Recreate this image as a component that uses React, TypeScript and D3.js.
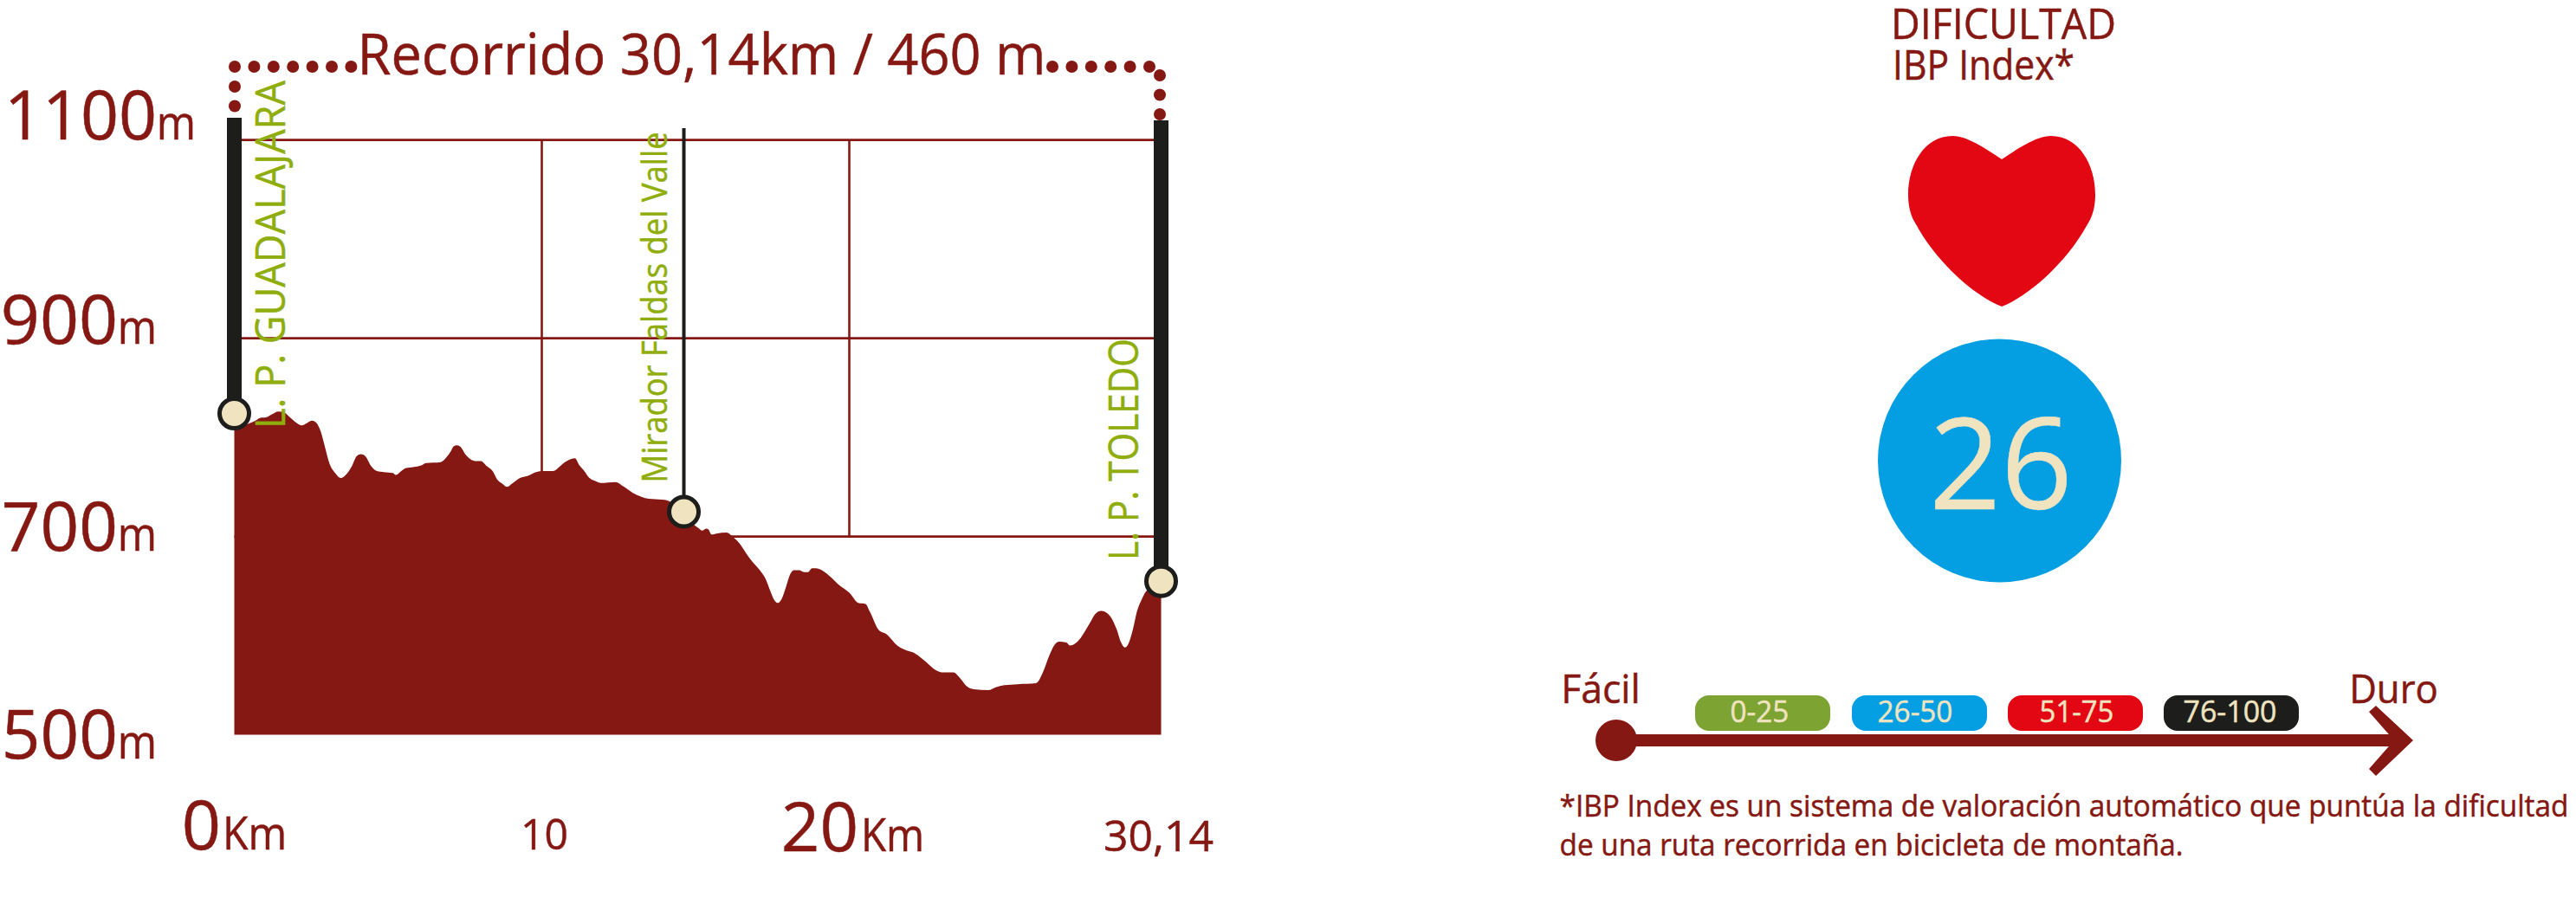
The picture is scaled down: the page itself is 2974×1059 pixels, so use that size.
import React from "react";
import * as d3 from "d3";

const distanceKm = [0,0.27,0.55,0.69,0.88,1.0,1.21,1.44,1.63,1.82,2.01,2.2,2.34,2.52,2.66,2.81,2.95,3.09,3.28,3.46,3.65,3.84,3.98,4.12,4.26,4.45,4.64,4.87,5.16,5.25,5.39,5.58,5.81,6.1,6.24,6.71,6.9,7.04,7.13,7.24,7.37,7.51,7.68,7.84,8.02,8.21,8.4,8.54,8.73,8.87,9.06,9.29,9.53,9.81,10.04,10.37,10.56,10.75,10.94,11.08,11.22,11.36,11.55,11.74,11.92,12.39,12.68,12.96,13.24,13.48,13.99,14.18,14.6,14.98,15.12,15.21,15.35,15.42,15.52,15.68,16.01,16.2,16.48,16.67,16.86,17.09,17.28,17.42,17.56,17.68,17.8,17.94,18.08,18.2,18.36,18.55,18.65,18.79,18.9,19.16,19.4,19.63,20.01,20.29,20.53,20.67,20.95,21.23,21.56,21.8,22.08,22.36,22.55,22.83,23.06,23.39,23.58,23.82,24.05,24.52,24.76,25.04,25.46,26.07,26.31,26.49,26.68,26.82,27.06,27.17,27.34,27.53,27.81,28,28.19,28.37,28.54,28.7,28.84,28.96,29.08,29.22,29.36,29.5,29.69,29.93,30.14];
const elevationM = [810,812,815,817,820,820,823,826,825,820,815,812,814,817,815,806,790,774,764,759,763,772,781,783,781,771,766,765,764,762,765,769,770,772,774,775,780,786,791,792,790,783,778,776,776,771,766,758,753,750,754,759,761,765,766,766,770,775,778,779,772,767,759,756,754,755,750,744,740,738,737,735,725,711,708,706,708,707,702,703,704,700,691,682,674,666,657,646,636,633,637,649,662,666,666,664,664,668,668,665,659,652,643,633,632,624,606,601,590,586,583,577,572,565,563,563,558,549,546,545,548,550,551,552,564,579,591,594,593,590,592,598,612,622,625,623,617,606,593,588,592,606,625,636,646,649,652];

const elevationTicks = [1100, 900, 700, 500];
const distanceGrid = [10, 20];
const waypointNames = ["L. P. GUADALAJARA", "Mirador Faldas del Valle", "L. P. TOLEDO"];
const waypointKm = [0, 14.62, 30.14];
const waypointM = [824, 725, 655];
const titleText = "Recorrido 30,14km / 460 m";
const difficultyValue = "26";
const rangeLabels = ["0-25", "26-50", "51-75", "76-100"];
const rangeColors = ["#7da332", "#049fe3", "#e30613", "#1d1d1b"];
const noteLines = [
  "*IBP Index es un sistema de valoración automático que puntúa la dificultad",
  "de una ruta recorrida en bicicleta de montaña.",
];

const MAROON = "#851812";
const CREAM = "#f0e4c0";
const GREEN = "#8fae0e";
const BLACK = "#1d1d1b";
const FONT = "'Open Sans', sans-serif";

type TP = { x: number; y: number; w: number; fs: number; fill?: string; rot?: boolean; children: string };
function T({ x, y, w, fs, fill = MAROON, rot, children }: TP) {
  // the measured extents are ink extents, so side bearings are added back
  const b = fs * 0.04;
  const px = rot ? x : x - b;
  const py = rot ? y + b : y;
  return (
    <text x={px} y={py} fontSize={fs} fill={fill} stroke={fill} strokeWidth={0.5} fontFamily={FONT}
      textLength={w + 2 * b} lengthAdjust="spacingAndGlyphs"
      transform={rot ? `rotate(-90 ${px} ${py})` : undefined}>{children}</text>
  );
}

export default function App() {
  const xScale = d3.scaleLinear().domain([0, 30.14]).range([270.5, 1340.5]);
  const yScale = d3.scaleLinear().domain([500, 1100]).range([848.6, 161.6]);
  const points = distanceKm.map((d, i) => [d, elevationM[i]] as [number, number]);
  const area = d3.area<[number, number]>().x(d => xScale(d[0])).y0(yScale(500)).y1(d => yScale(d[1])).curve(d3.curveMonotoneX);

  const elevLayout = [
    { x: 8, w: 170, base: 161, mx: 183 },
    { x: 4, w: 129, base: 397, mx: 138 },
    { x: 5, w: 128, base: 636, mx: 138 },
    { x: 5, w: 128, base: 876, mx: 138 },
  ];
  const barLayout = [
    { w: 17, top: 136 },
    { w: 4, top: 148 },
    { w: 17, top: 139 },
  ];
  const nameLayout = [
    { x: 329, y: 493, w: 398, fs: 48 },
    { x: 770, y: 556, w: 402, fs: 40 },
    { x: 1314, y: 645, w: 252, fs: 48 },
  ];
  const pillLayout = [
    { x: 1957, tx: 1999, tw: 65 },
    { x: 2138, tx: 2169, tw: 84 },
    { x: 2318, tx: 2356, tw: 83 },
    { x: 2498, tx: 2522, tw: 105 },
  ];

  return (
    <svg width={2974} height={1059} viewBox="0 0 2974 1059" style={{ position: "absolute", left: 0, top: 0, display: "block", background: "#fff" }}>
      {/* grid */}
      {elevationTicks.slice(0, 3).map(t => (
        <line key={t} x1={xScale(0)} x2={xScale(30.14)} y1={yScale(t)} y2={yScale(t)} stroke={MAROON} strokeWidth={2.6} />
      ))}
      {distanceGrid.map(k => (
        <line key={k} x1={xScale(k)} x2={xScale(k)} y1={yScale(1100)} y2={yScale(700)} stroke={MAROON} strokeWidth={2.6} />
      ))}
      {/* profile */}
      <path d={area(points) as string} fill={MAROON} />

      {/* waypoint poles */}
      {waypointKm.map((k, i) => (
        <rect key={k} x={xScale(k) - barLayout[i].w / 2} width={barLayout[i].w} y={barLayout[i].top}
          height={yScale(waypointM[i]) - barLayout[i].top} fill={BLACK} />
      ))}
      {waypointKm.map((k, i) => (
        <circle key={k} cx={xScale(k)} cy={yScale(waypointM[i])} r={17} fill={CREAM} stroke={BLACK} strokeWidth={5} />
      ))}
      {waypointNames.map((n, i) => (
        <T key={n} {...nameLayout[i]} fill={GREEN} rot>{n}</T>
      ))}

      {/* title and dotted bracket */}
      <T x={415} y={86} w={790} fs={65}>{titleText}</T>
      {d3.range(7).map(i => <circle key={i} cx={271 + i * 22.4} cy={77} r={7} fill={MAROON} />)}
      {d3.range(2).map(i => <circle key={i} cx={271} cy={100 + i * 22.5} r={7} fill={MAROON} />)}
      {d3.range(6).map(i => <circle key={i} cx={1215 + i * 22.4} cy={77} r={7} fill={MAROON} />)}
      {d3.range(3).map(i => <circle key={i} cx={1339} cy={87 + i * 22.5} r={7} fill={MAROON} />)}

      {/* elevation labels */}
      {elevationTicks.map((t, i) => (
        <g key={t}>
          <T x={elevLayout[i].x} y={elevLayout[i].base} w={elevLayout[i].w} fs={78}>{String(t)}</T>
          <T x={elevLayout[i].mx} y={elevLayout[i].base} w={41} fs={54}>m</T>
        </g>
      ))}

      {/* distance labels */}
      <T x={213} y={981} w={39} fs={79}>0</T>
      <T x={259} y={981} w={70} fs={53}>Km</T>
      <T x={603} y={981} w={51} fs={50}>10</T>
      <T x={905} y={983} w={83} fs={79}>20</T>
      <T x={996} y={983} w={69} fs={53}>Km</T>
      <T x={1276} y={983} w={123} fs={50}>30,14</T>

      {/* difficulty panel */}
      <T x={2185} y={45} w={256} fs={50}>DIFICULTAD</T>
      <T x={2187} y={92} w={206} fs={47}>IBP Index*</T>
      <path fill="#e30613" d="M2311,184 C2328,173 2350,157 2368,157 C2400,157 2419,190 2419,225 C2419,238 2416,250 2410,259 C2385,305 2340,343 2311,354 C2282,343 2237,305 2212,259 C2206,250 2203,238 2203,225 C2203,190 2222,157 2254,157 C2272,157 2294,173 2311,184Z" />
      <circle cx={2308.5} cy={532} r={140.5} fill="#049fe3" />
      <T x={2233} y={588} w={154} fs={146} fill={CREAM}>{difficultyValue}</T>

      {/* scale arrow */}
      <T x={1804} y={812} w={88} fs={46}>Fácil</T>
      <T x={2714} y={812} w={99} fs={46}>Duro</T>
      <line x1={1866} x2={2770} y1={855} y2={855} stroke={MAROON} strokeWidth={14} />
      <circle cx={1866} cy={855} r={24} fill={MAROON} />
      <polygon points="2743,815 2786,855 2743,896 2735,888 2764,855 2735,822" fill={MAROON} />
      {rangeLabels.map((l, i) => (
        <g key={l}>
          <rect x={pillLayout[i].x} y={803} width={156} height={41} rx={16} fill={rangeColors[i]} />
          <T x={pillLayout[i].tx} y={834} w={pillLayout[i].tw} fs={35} fill={CREAM}>{l}</T>
        </g>
      ))}

      {/* footnote */}
      <T x={1802} y={943} w={1162} fs={35}>{noteLines[0]}</T>
      <T x={1802} y={988} w={717} fs={35}>{noteLines[1]}</T>
    </svg>
  );
}
